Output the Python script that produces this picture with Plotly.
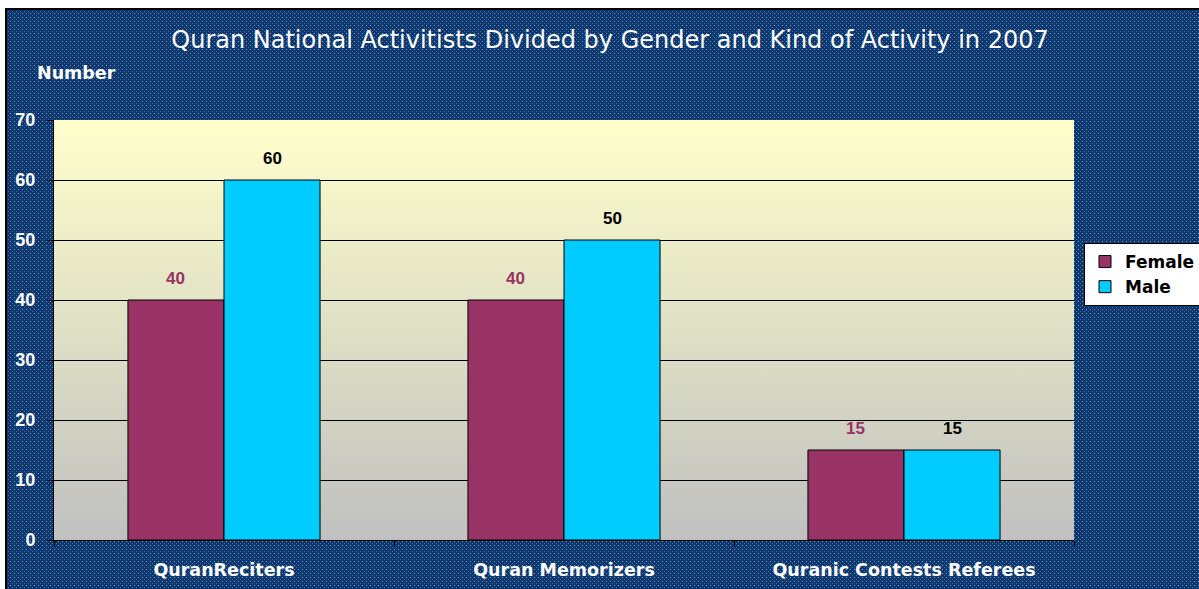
import base64
import plotly.graph_objects as go

# ---- data ----
categories = ["QuranReciters", "Quran Memorizers", "Quranic Contests Referees"]
female = [40, 40, 15]
male = [60, 50, 15]
series_names = ["Female", "Male"]
y_ticks = [0, 10, 20, 30, 40, 50, 60, 70]
title_text = "Quran National Activitists Divided by Gender and Kind of Activity in 2007"
y_title = "Number"

# ---- styling ----
W, H = 1199, 589
ML, MR, MT, MB = 54, 125, 120, 49
PW, PH = W - ML - MR, H - MT - MB
FEMALE_C = "#993366"
MALE_C = "#00CCFF"
BOLD = "DejaVu Sans"
NUM = "Liberation Sans"


def px_to_paper_x(px):
    return (px - ML) / PW


def px_to_paper_y(py):
    return (H - MB - py) / PH


# patterned navy background (svg)
bg_w, bg_h = W - 5, H - 8
bg_svg = f'''<svg xmlns="http://www.w3.org/2000/svg" width="{bg_w}" height="{bg_h}" viewBox="0 0 {bg_w} {bg_h}">
<defs><pattern id="p" width="4" height="4" patternUnits="userSpaceOnUse">
<rect width="4" height="4" fill="#0b3870"/>
<rect x="1" y="1" width="1" height="1" fill="#8c9cb2"/>
<rect x="3" y="3" width="1" height="1" fill="#50688e"/>
</pattern></defs>
<rect width="{bg_w}" height="{bg_h}" fill="url(#p)"/>
<rect x="1" y="1" width="{bg_w + 4}" height="{bg_h + 4}" fill="none" stroke="#000" stroke-width="2"/>
</svg>'''
grad_svg = '''<svg xmlns="http://www.w3.org/2000/svg" width="100" height="420" viewBox="0 0 100 420" preserveAspectRatio="none">
<defs><linearGradient id="g" x1="0" y1="0" x2="0" y2="1">
<stop offset="0" stop-color="#FFFFCC"/><stop offset="1" stop-color="#C0C0C0"/>
</linearGradient></defs>
<rect width="100" height="420" fill="url(#g)"/>
</svg>'''


def uri(svg):
    return "data:image/svg+xml;base64," + base64.b64encode(svg.encode()).decode()


fig = go.Figure()
fig.add_trace(go.Bar(name=series_names[0], x=categories, y=female,
                     marker=dict(color=FEMALE_C, line=dict(color="black", width=1))))
fig.add_trace(go.Bar(name=series_names[1], x=categories, y=male,
                     marker=dict(color=MALE_C, line=dict(color="black", width=1))))

annotations = []
for cat, v in zip(categories, female):
    annotations.append(dict(x=cat, y=v, xref="x", yref="y", text=str(v), showarrow=False,
                            xshift=-48.5, yshift=22, yanchor="middle",
                            font=dict(family=NUM, size=17, color=FEMALE_C, weight="bold")))
for cat, v in zip(categories, male):
    annotations.append(dict(x=cat, y=v, xref="x", yref="y", text=str(v), showarrow=False,
                            xshift=48.5, yshift=22, yanchor="middle",
                            font=dict(family=NUM, size=17, color="black", weight="bold")))
annotations.append(dict(x=px_to_paper_x(35), y=px_to_paper_y(73), xref="paper", yref="paper",
                        text=y_title, showarrow=False, xanchor="left", yanchor="middle",
                        font=dict(family=BOLD, size=17.5, color="white", weight="bold")))

fig.update_layout(
    width=W, height=H,
    margin=dict(l=ML, r=MR, t=MT, b=MB, pad=0, autoexpand=False),
    paper_bgcolor="white",
    plot_bgcolor="rgba(0,0,0,0)",
    barmode="group", bargap=0.435, bargroupgap=0,
    title=dict(text=title_text, x=610 / W, xref="container", xanchor="center",
               y=1 - 40 / H, yref="container", yanchor="middle",
               font=dict(family="DejaVu Sans", size=24, color="white")),
    images=[
        dict(source=uri(bg_svg), xref="paper", yref="paper",
             x=px_to_paper_x(5), y=px_to_paper_y(8), sizex=bg_w / PW, sizey=bg_h / PH,
             sizing="stretch", xanchor="left", yanchor="top", layer="below"),
        dict(source=uri(grad_svg), xref="paper", yref="paper",
             x=0, y=1, sizex=1, sizey=1, sizing="stretch",
             xanchor="left", yanchor="top", layer="below"),
    ],
    legend=dict(x=px_to_paper_x(1084), y=px_to_paper_y(243), xanchor="left", yanchor="top",
                bgcolor="white", bordercolor="black", borderwidth=1,
                itemwidth=30, tracegroupgap=0,
                font=dict(family=BOLD, size=17, color="black", weight="bold")),
    annotations=annotations,
    showlegend=True,
)
fig.update_yaxes(range=[0, 70], tickvals=y_ticks, showgrid=True, gridcolor="black", gridwidth=1,
                 showline=True, linecolor="black", linewidth=1, ticks="outside", ticklen=6,
                 tickcolor="black", ticklabelstandoff=8, zeroline=False,
                 tickfont=dict(family=NUM, size=18, color="white", weight="bold"))
fig.update_xaxes(showline=True, linecolor="black", linewidth=1, ticks="outside", ticklen=5,
                 tickcolor="black", tickson="boundaries", ticklabelstandoff=14,
                 tickfont=dict(family=BOLD, size=17.5, color="white", weight="bold"))

fig.write_html("out.html", config={"displayModeBar": False},
               post_script="document.body.style.margin='0';")
